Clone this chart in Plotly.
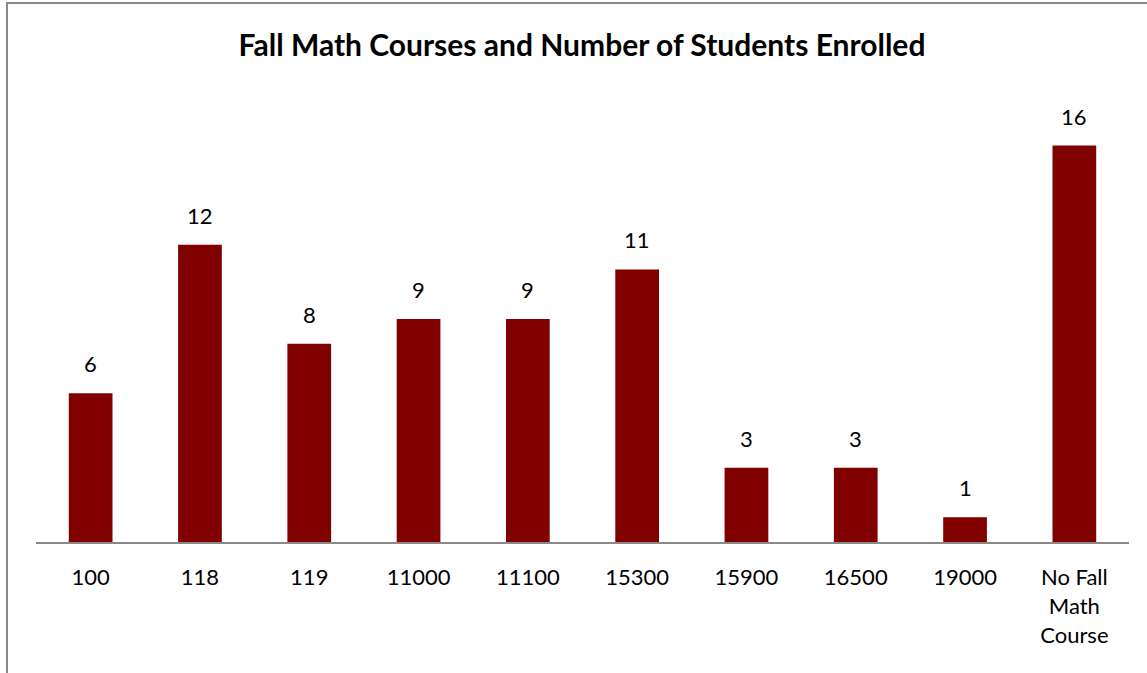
import plotly.graph_objects as go

categories = ["100", "118", "119", "11000", "11100", "15300", "15900", "16500", "19000", "No Fall<br>Math<br>Course"]
students = [6, 12, 8, 9, 9, 11, 3, 3, 1, 16]
title_text = "Fall Math Courses and Number of Students Enrolled"

W, H = 1147, 673
L, R, T, B = 36, 18, 96, 131
pw, ph = W - L - R, H - T - B

FONT = "Lato"
BAR = "#800000"
GREY = "#898989"

pos = list(range(len(categories)))

fig = go.Figure()
fig.add_trace(go.Bar(
    x=pos, y=students,
    width=0.4,
    marker=dict(color=BAR, line=dict(width=0)),
    hoverinfo="skip",
))

for p, v in zip(pos, students):
    fig.add_annotation(x=p, y=v, text=str(v), showarrow=False,
                       yanchor="bottom", yshift=14,
                       font=dict(family=FONT, size=22, color="#000000"))

# outer chart frame (cropped at right and bottom)
fig.add_shape(type="rect", xref="paper", yref="paper",
              x0=(7 - L) / pw, x1=2.0,
              y0=-1.0, y1=(H - B - 3) / ph,
              line=dict(color=GREY, width=2), fillcolor="rgba(0,0,0,0)", layer="below")

fig.update_layout(
    width=W, height=H,
    margin=dict(l=L, r=R, t=T, b=B, pad=0),
    paper_bgcolor="white", plot_bgcolor="white",
    showlegend=False,
    title=dict(text="<b>" + title_text + "</b>", x=582 / W, xanchor="center",
               y=1 - 45 / H, yanchor="middle",
               font=dict(family=FONT, size=30, color="#000000")),
    xaxis=dict(range=[-0.5, len(categories) - 0.5], tickmode="array",
               tickvals=pos, ticktext=categories,
               showline=True, linecolor=GREY, linewidth=2, ticks="",
               tickfont=dict(family=FONT, size=22, color="#000000"),
               ticklabelstandoff=15, showgrid=False, zeroline=False, fixedrange=True),
    yaxis=dict(range=[0, 18], visible=False, showgrid=False, zeroline=False, fixedrange=True),
)

fig.write_html("out.html", config={"displayModeBar": False},
               post_script="document.body.style.margin='0';document.body.style.overflow='hidden';")
